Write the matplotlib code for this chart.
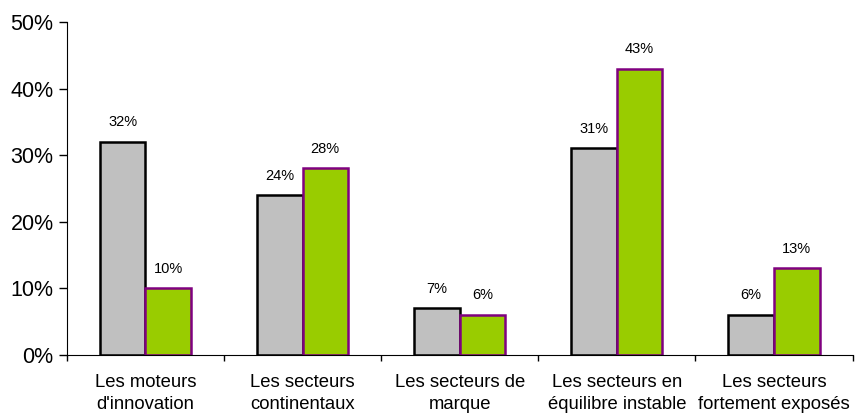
import matplotlib
matplotlib.use("Agg")
import matplotlib.pyplot as plt
import numpy as np
from matplotlib.ticker import FixedLocator, PercentFormatter

plt.rcParams['font.family'] = ['Liberation Sans', 'DejaVu Sans']

categories = ["Les moteurs\nd'innovation", "Les secteurs\ncontinentaux", "Les secteurs de\nmarque",
              "Les secteurs en\néquilibre instable", "Les secteurs\nfortement exposés"]
series_gray = [32, 24, 7, 31, 6]
series_green = [10, 28, 6, 43, 13]
y_ticks = [0, 10, 20, 30, 40, 50]

fig = plt.figure(figsize=(8.56, 4.15), dpi=100)
ax = fig.add_axes([0.078, 0.145, 0.918, 0.802])

x = np.arange(len(categories))
w = 0.29
b1 = ax.bar(x - w/2, series_gray, w, color="#C0C0C0", edgecolor="black", linewidth=1.8)
b2 = ax.bar(x + w/2, series_green, w, color="#99CC00", edgecolor="#800080", linewidth=1.8)

for bars, vals in ((b1, series_gray), (b2, series_green)):
    for r, v in zip(bars, vals):
        ax.annotate(f"{v}%", (r.get_x() + r.get_width()/2, v), xytext=(0, 9),
                    textcoords="offset points", ha="center", va="bottom", fontsize=10.5)

ax.set_xlim(-0.5, len(categories) - 0.5)
ax.set_ylim(0, 50)
ax.set_yticks(y_ticks)
ax.yaxis.set_major_formatter(PercentFormatter(decimals=0))
ax.tick_params(axis='y', labelsize=15.5, direction='out', length=6, width=1)
ax.set_xticks(x)
ax.set_xticklabels(categories, fontsize=13.3, linespacing=1.35)
ax.tick_params(axis='x', which='major', length=0, pad=14)
ax.xaxis.set_minor_locator(FixedLocator(np.arange(-0.5, len(categories), 1.0)))
ax.tick_params(axis='x', which='minor', direction='out', length=4, width=1)
for s in ('top', 'right'):
    ax.spines[s].set_visible(False)
ax.spines['left'].set_color('black')
ax.spines['bottom'].set_color('black')

fig.savefig("out.png", dpi=100)
